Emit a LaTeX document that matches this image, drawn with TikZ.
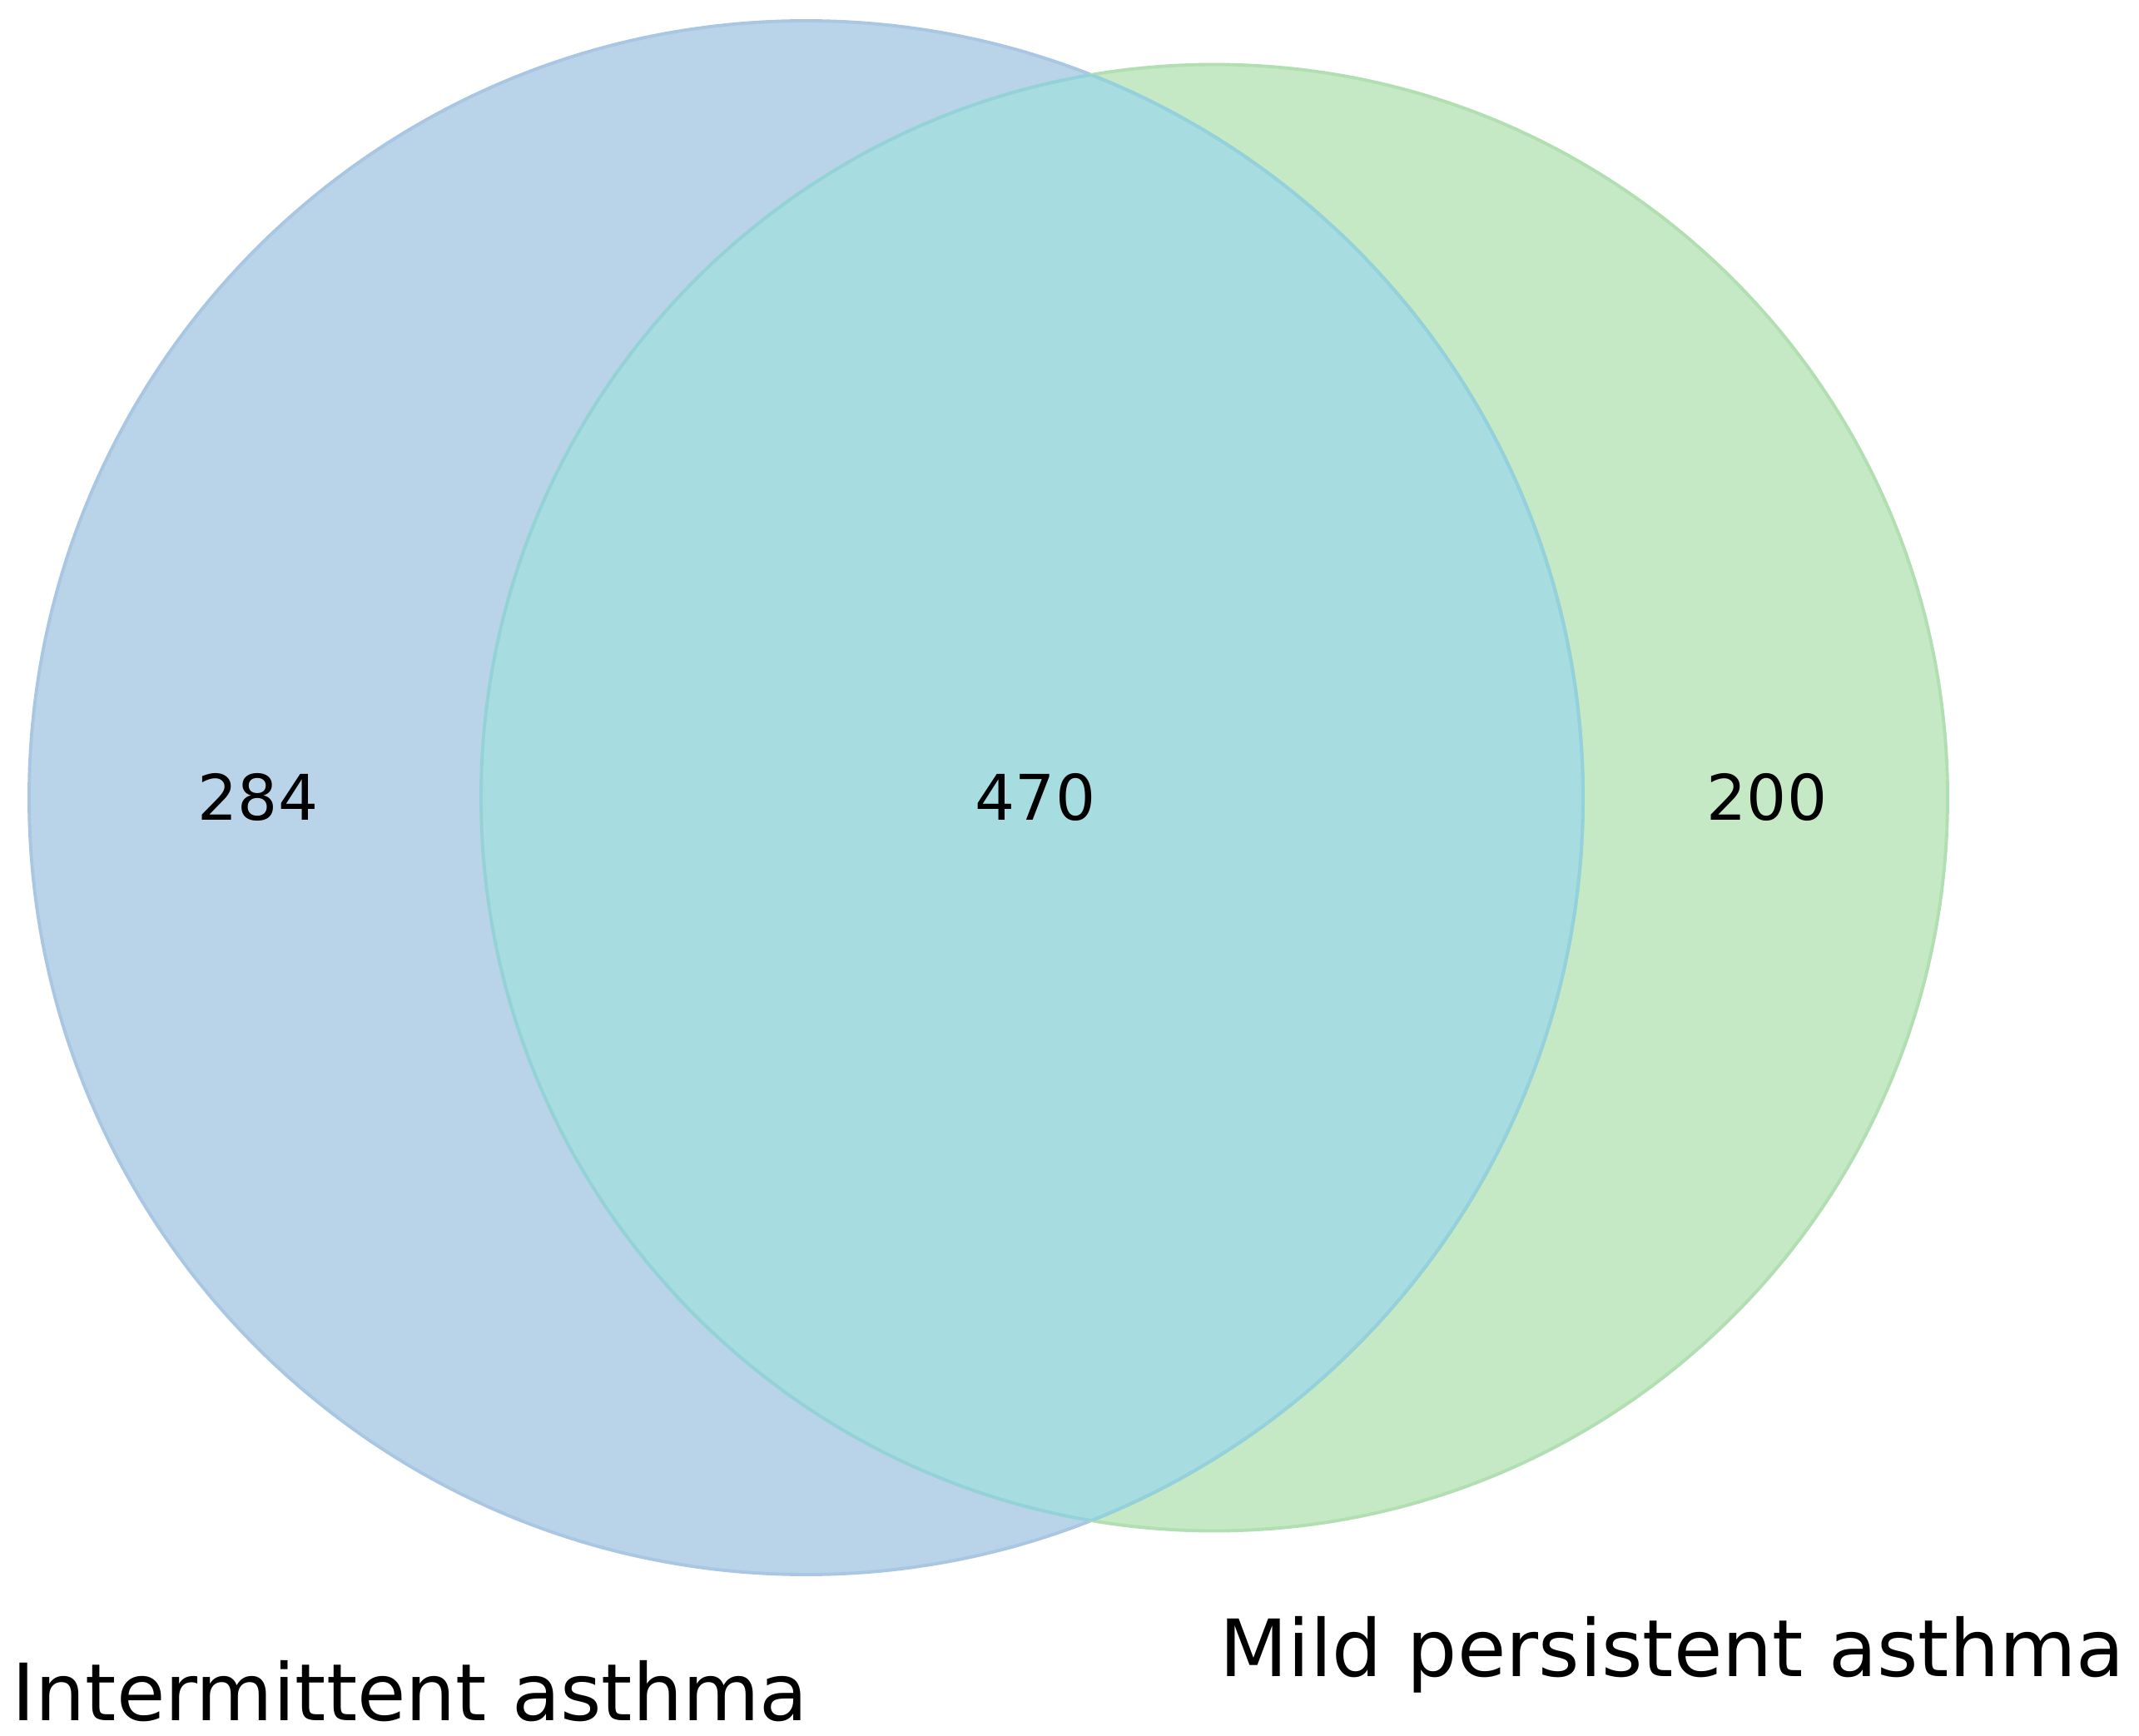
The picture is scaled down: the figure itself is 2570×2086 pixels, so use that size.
\documentclass[tikz,border=0pt]{standalone}
\usepackage{fontspec}
\setmainfont{DejaVu Sans}
\definecolor{blueset}{HTML}{B9D3E8}
\definecolor{greenset}{HTML}{C5E8C5}
\definecolor{overlapset}{HTML}{A7DCE0}
\definecolor{blueedge}{HTML}{A9C7E3}
\definecolor{greenedge}{HTML}{B2DFB2}
\definecolor{overlapedge}{HTML}{93D2DA}
\begin{document}
\begin{tikzpicture}[x=0.01cm,y=-0.01cm,
  num/.style={font=\fontsize{21.5}{26}\selectfont, inner sep=0pt, anchor=center},
  lab/.style={font=\fontsize{27}{32}\selectfont, inner sep=0pt, anchor=base west},
  edge/.style={line width=1.1pt}]
\useasboundingbox (0,0) rectangle (2570,2086);
\coordinate (cb) at (968.5,958.5);
\coordinate (cg) at (1459,958.5);
% fills
\fill[blueset] (cb) circle[radius=933.5];
\fill[greenset] (cg) circle[radius=881];
\begin{scope}
  \clip (cb) circle[radius=933.5];
  \fill[overlapset] (cg) circle[radius=881];
\end{scope}
% outlines
\draw[edge, blueedge] (cb) circle[radius=933.5];
\draw[edge, greenedge] (cg) circle[radius=881];
\begin{scope}
  \clip (cb) circle[radius=933.5];
  \draw[edge, overlapedge] (cg) circle[radius=881];
\end{scope}
\begin{scope}
  \clip (cg) circle[radius=881];
  \draw[edge, overlapedge] (cb) circle[radius=933.5];
\end{scope}
% counts
\node[num] (n284) at (310,958) {284};
\node[num] (n470) at (1244,958) {470};
\node[num] (n200) at (2123,958) {200};
% set labels
\node[lab] (lblA) at (14,2067) {Intermittent asthma};
\node[lab] (lblB) at (1465,2014) {Mild persistent asthma};
\end{tikzpicture}
\end{document}
